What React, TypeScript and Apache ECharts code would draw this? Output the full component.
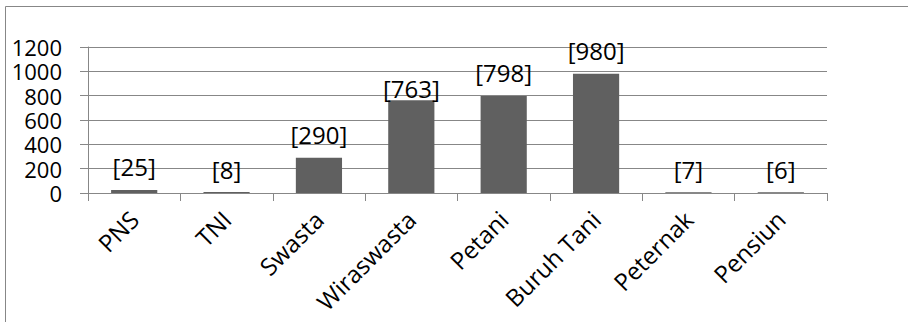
import React, { useEffect, useRef } from "react";
import * as echarts from "echarts";

const categories = ["PNS", "TNI", "Swasta", "Wiraswasta", "Petani", "Buruh Tani", "Peternak", "Pensiun"];
const values = [25, 8, 290, 763, 798, 980, 7, 6];
const yTicks = { min: 0, max: 1200, interval: 200 };

const FONT = "Open Sans";
const GRAY = "#878787";

export default function App() {
  const ref = useRef<HTMLDivElement>(null);
  useEffect(() => {
    if (!ref.current) return;
    const chart = echarts.init(ref.current, undefined, { renderer: "svg" });
    chart.setOption({
      animation: false,
      backgroundColor: "#ffffff",
      textStyle: { fontFamily: FONT },
      grid: { left: 88, right: 81, top: 47, bottom: 129, containLabel: false },
      graphic: [
        { type: "line", shape: { x1: 5.5, y1: 6.5, x2: 908, y2: 6.5 }, style: { stroke: GRAY, lineWidth: 1 } },
        { type: "line", shape: { x1: 5.5, y1: 6.5, x2: 5.5, y2: 322 }, style: { stroke: GRAY, lineWidth: 1 } },
      ],
      xAxis: {
        type: "category",
        data: categories,
        boundaryGap: true,
        axisLine: { show: true, lineStyle: { color: GRAY, width: 1 } },
        axisTick: { show: true, alignWithLabel: false, length: 8, lineStyle: { color: GRAY } },
        axisLabel: {
          rotate: 45,
          margin: 22,
          interval: 0,
          color: "#000000",
          fontFamily: FONT,
          fontSize: 24,
        },
        splitLine: { show: false },
      },
      yAxis: {
        type: "value",
        min: yTicks.min,
        max: yTicks.max,
        interval: yTicks.interval,
        axisLine: { show: true, lineStyle: { color: GRAY, width: 1 } },
        axisTick: { show: true, length: 8, lineStyle: { color: GRAY } },
        axisLabel: {
          margin: 26,
          color: "#000000",
          fontFamily: FONT,
          fontSize: 22,
          lineHeight: 20,
          formatter: (v: number) => String(v),
        },
        splitLine: { show: true, lineStyle: { color: GRAY, width: 1 } },
      },
      series: [
        {
          type: "bar",
          barWidth: "50%",
          itemStyle: { color: "#606060" },
          data: values.map((v, i) =>
            i === 3 ? { value: v, label: { distance: 0 } } : v
          ),
          label: {
            show: true,
            position: "top",
            distance: 11,
            formatter: "[{c}]",
            color: "#000000",
            fontFamily: FONT,
            fontSize: 24,
          },
        },
      ],
    });
    return () => chart.dispose();
  }, []);
  return (
    <div
      ref={ref}
      style={{ position: "absolute", left: 0, top: 0, width: 908, height: 322 }}
    />
  );
}
